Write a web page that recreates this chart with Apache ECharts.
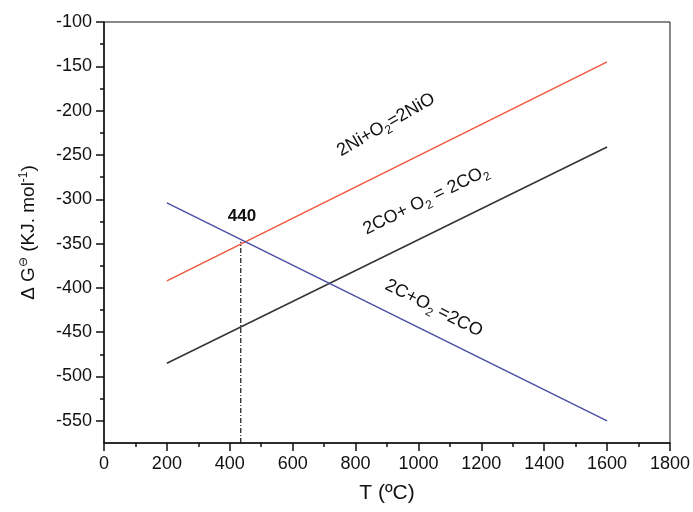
<!DOCTYPE html>
<html>
<head>
<meta charset="utf-8">
<script src="https://cdn.jsdelivr.net/npm/echarts@6/dist/echarts.min.js"></script>
<style>
  html, body { margin: 0; background: #fff; }
  #chart { width: 693px; height: 512px; }
</style>
</head>
<body>
<div id="chart"></div>
<script>
// temperature range (ºC) of the three reactions
const tempRange = [200, 1600]
// ΔG° (kJ/mol) at start and end of the range
const niOxide = [-392, -145]
const coOxide = [-485, -241]
const cOxide = [-304, -550]
// dash-dot marker at the C / Ni crossing
const crossT = 435
const crossG = [-575, -348]

const yLabels = [-550, -500, -450, -400, -350, -300, -250, -200, -150, -100]
const yMinor = [-525, -475, -425, -375, -325, -275, -225, -175, -125]

const font = 'Liberation Sans, Arial, sans-serif'

function pairs(ys) {
  return tempRange.map((t, i) => [t, ys[i]])
}

function note(coord, text, rotate, extra) {
  return {
    coord: coord,
    label: Object.assign({
      show: true,
      position: 'inside',
      formatter: text,
      rotate: rotate,
      color: '#111',
      fontFamily: font,
      fontSize: 18,
      rich: {
        sub: { fontSize: 12, fontFamily: font, color: '#111', padding: [12, 0, 0, 0] }
      }
    }, extra || {})
  }
}

const chart = echarts.init(document.getElementById('chart'))
chart.setOption({
  animation: false,
  grid: {
    left: 104,
    right: 23,
    top: 22,
    bottom: 69,
    show: true,
    borderColor: '#111',
    borderWidth: 1,
    backgroundColor: 'transparent'
  },
  xAxis: {
    type: 'value',
    min: 0,
    max: 1800,
    interval: 200,
    name: 'T (ºC)',
    nameLocation: 'middle',
    nameGap: 40,
    nameTextStyle: { fontFamily: font, fontSize: 21, color: '#111' },
    axisLine: { lineStyle: { color: '#111', width: 1.5 } },
    axisTick: { length: 8, lineStyle: { color: '#111', width: 1.5 } },
    minorTick: { show: true, splitNumber: 2, length: 4, lineStyle: { color: '#111', width: 1.5 } },
    axisLabel: {
      fontFamily: font, fontSize: 18, color: '#111', margin: 12,
      formatter: v => String(v)
    },
    splitLine: { show: false }
  },
  yAxis: [
    {
      type: 'value',
      min: -575,
      max: -100,
      name: 'Δ G{sup|⊖} (KJ. mol{sup|-1})',
      nameLocation: 'middle',
      nameRotate: 90,
      nameGap: 65,
      nameTextStyle: {
        fontFamily: font, fontSize: 19, color: '#111',
        rich: {
          sup: { fontSize: 12, fontFamily: font, color: '#111', padding: [0, 0, 9, 0] }
        }
      },
      axisLine: { lineStyle: { color: '#111', width: 1.5 } },
      axisTick: { length: 8, customValues: yLabels, lineStyle: { color: '#111', width: 1.5 } },
      axisLabel: { fontFamily: font, fontSize: 18, color: '#111', margin: 12, customValues: yLabels },
      splitLine: { show: false }
    },
    {
      type: 'value',
      position: 'left',
      min: -575,
      max: -100,
      axisLine: { show: false },
      axisTick: { show: true, length: 4, customValues: yMinor, lineStyle: { color: '#111', width: 1.5 } },
      axisLabel: { show: false },
      splitLine: { show: false }
    }
  ],
  series: [
    {
      name: 'Ni',
      type: 'line',
      data: pairs(niOxide),
      symbol: 'none',
      lineStyle: { color: '#f0573f', width: 1.5 },
      markPoint: {
        symbol: 'circle',
        symbolSize: 0,
        data: [
          note([897, -216], '2Ni+O{sub|2}=2NiO', 30),
          note([1024, -301], '2CO+ O{sub|2} = 2CO{sub|2}', 26),
          note([1049, -423], '2C+O{sub|2} =2CO', -27),
          note([439, -319], '440', 0, { fontWeight: 'bold', fontSize: 17 })
        ]
      }
    },
    {
      name: 'CO',
      type: 'line',
      data: pairs(coOxide),
      symbol: 'none',
      lineStyle: { color: '#333', width: 1.5 }
    },
    {
      name: 'C',
      type: 'line',
      data: pairs(cOxide),
      symbol: 'none',
      lineStyle: { color: '#4b4fa6', width: 1.5 }
    },
    {
      name: 'cross',
      type: 'line',
      data: crossG.map(g => [crossT, g]),
      symbol: 'none',
      lineStyle: { color: '#111', width: 1.2, type: [5, 2, 1, 2] }
    }
  ]
})
</script>
</body>
</html>
